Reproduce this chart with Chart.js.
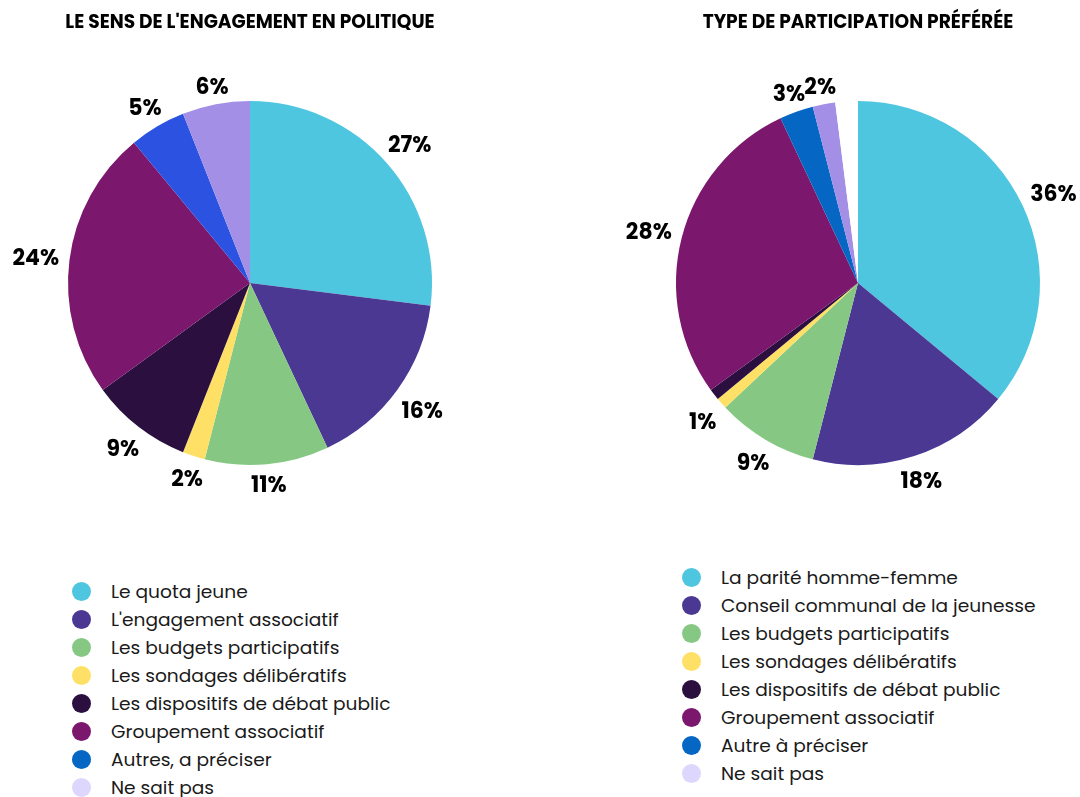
<!DOCTYPE html>
<html lang="fr">
<head>
<meta charset="utf-8">
<title>Engagement en politique</title>
<script src="https://cdn.jsdelivr.net/npm/chart.js@4/dist/chart.umd.min.js"></script>
<style>
  html, body { margin: 0; padding: 0; background: #fff; overflow: hidden; }
  body { width: 1080px; height: 797px; position: relative; font-family: Poppins, Inter, sans-serif; }
  canvas { position: absolute; top: 0; }
  #leftChart { left: 0; }
  #rightChart { left: 540px; }
  .legend { position: absolute; list-style: none; margin: 0; padding: 0; }
  .legend li { height: 28px; display: flex; align-items: center; font-size: 18.6px; color: #1a1a1a; white-space: nowrap; }
  .legend span { display: inline-block; width: 19px; height: 19px; border-radius: 50%; margin-right: 20px; margin-left: -10px; flex: none; }
  #leftLegend { left: 82px; top: 577px; }
  #rightLegend { left: 692px; top: 563px; }
</style>
</head>
<body>
<canvas id="leftChart" width="540" height="520"></canvas>
<canvas id="rightChart" width="540" height="520"></canvas>
<ul id="leftLegend" class="legend"></ul>
<ul id="rightLegend" class="legend"></ul>
<script>
// --- données ---
var leftTitle = "LE SENS DE L'ENGAGEMENT EN POLITIQUE";
var leftCategories = ['Le quota jeune', "L'engagement associatif", 'Les budgets participatifs', 'Les sondages délibératifs',
    'Les dispositifs de débat public', 'Groupement associatif', 'Autres, a préciser', 'Ne sait pas'];
var leftValues = [27, 16, 11, 2, 9, 24, 5, 6];

var rightTitle = 'TYPE DE PARTICIPATION PRÉFÉRÉE';
var rightCategories = ['La parité homme-femme', 'Conseil communal de la jeunesse', 'Les budgets participatifs', 'Les sondages délibératifs',
    'Les dispositifs de débat public', 'Groupement associatif', 'Autre à préciser', 'Ne sait pas'];
var rightValues = [36, 18, 9, 1, 1, 28, 3, 2];
var rightRemainder = 2; // part non attribuée (blanc en haut du camembert)

// couleurs
var leftSliceColors = ['#4fc6df', '#4b3893', '#86c883', '#ffe066', '#2a0f3f', '#7b186e', '#2b52e0', '#a38fe6'];
var rightSliceColors = ['#4fc6df', '#4b3893', '#86c883', '#ffe066', '#2a0f3f', '#7b186e', '#0566c4', '#a38fe6', '#ffffff'];
var legendColors = ['#4fc6df', '#4b3893', '#86c883', '#ffe066', '#2a0f3f', '#7b186e', '#0566c4', '#ddd6fd'];

var fontFamily = 'Poppins, Inter, sans-serif';

// étiquettes en % autour du camembert
var percentLabels = {
    id: 'percentLabels',
    afterDatasetsDraw: function (chart) {
        var ctx = chart.ctx;
        var meta = chart.getDatasetMeta(0);
        var ds = chart.data.datasets[0];
        var drawn = [];
        ctx.save();
        ctx.font = 'bold 22px ' + fontFamily;
        ctx.fillStyle = '#000';
        ctx.textAlign = 'center';
        ctx.textBaseline = 'middle';
        meta.data.forEach(function (arc, i) {
            if (!chart.data.labels[i]) return;
            var p = arc.getProps(['x', 'y', 'startAngle', 'endAngle', 'outerRadius'], true);
            var mid = (p.startAngle + p.endAngle) / 2;
            var cx = Math.cos(mid), cy = Math.sin(mid);
            var txt = ds.data[i] + '%';
            var w = ctx.measureText(txt).width;
            // décalage: bord + 10px + demi-boîte du texte
            var r = p.outerRadius + 10 + Math.abs(cx) * w / 2 + Math.abs(cy) * 7;
            var x = p.x + cx * r;
            var y = p.y + cy * r + 4;
            // on masque une étiquette qui chevauche nettement la précédente
            var box = { l: x - w * 0.35, r: x + w * 0.35, t: y - 8, b: y + 8 };
            var hit = drawn.some(function (d) {
                return box.l < d.r && box.r > d.l && box.t < d.b && box.b > d.t;
            });
            if (hit) return;
            drawn.push(box);
            ctx.fillText(txt, x, y);
        });
        ctx.restore();
    }
};

function makePie(canvasId, title, labels, values, colors, padding) {
    return new Chart(document.getElementById(canvasId), {
        type: 'pie',
        data: {
            labels: labels,
            datasets: [{
                data: values,
                backgroundColor: colors,
                borderWidth: 0
            }]
        },
        options: {
            responsive: false,
            animation: false,
            layout: { padding: padding },
            plugins: {
                legend: { display: false },
                tooltip: { enabled: false },
                title: {
                    display: true,
                    text: title,
                    color: '#000',
                    font: { family: fontFamily, size: 18.6, weight: 'bold', lineHeight: 1.2 },
                    padding: { top: 12, bottom: 66.7 }
                }
            }
        },
        plugins: [percentLabels]
    });
}

function fillLegend(listId, labels, colors) {
    var ul = document.getElementById(listId);
    labels.forEach(function (lab, i) {
        var li = document.createElement('li');
        var dot = document.createElement('span');
        dot.style.background = colors[i];
        li.appendChild(dot);
        li.appendChild(document.createTextNode(lab));
        ul.appendChild(li);
    });
}

var leftChart = makePie('leftChart', leftTitle, leftCategories, leftValues, leftSliceColors,
    { top: 0, bottom: 55, left: 0, right: 40 });
var rightChart = makePie('rightChart', rightTitle, rightCategories.concat(['']), rightValues.concat([rightRemainder]),
    rightSliceColors, { top: 0, bottom: 55, left: 96, right: 0 });

fillLegend('leftLegend', leftCategories, legendColors);
fillLegend('rightLegend', rightCategories, legendColors);
</script>
</body>
</html>
